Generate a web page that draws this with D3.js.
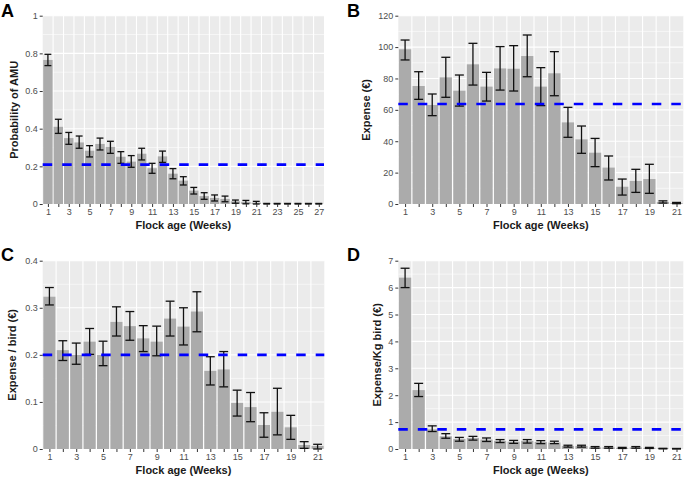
<!DOCTYPE html>
<html><head><meta charset="utf-8">
<script src="https://cdn.jsdelivr.net/npm/d3@7"></script>
<style>
body{margin:0;background:#fff;}
svg{display:block;font-family:"Liberation Sans",Arial,sans-serif;}
</style></head>
<body>
<svg id="chart" width="685" height="478"></svg>
<script>
// ---------- Data ----------
const weeksA = [1,2,3,4,5,6,7,8,9,10,11,12,13,14,15,16,17,18,19,20,21,22,23,24,25,26,27];
const weeksB = [1,2,3,4,5,6,7,8,9,10,11,12,13,14,15,16,17,18,19,20,21];

const probAMU   = [0.765,0.41,0.35,0.327,0.283,0.319,0.303,0.251,0.225,0.267,0.19,0.253,0.161,0.124,0.071,0.042,0.032,0.027,0.014,0.011,0.007,0.001,0.001,0.001,0.001,0.001,0.001];
const probAMUlo = [0.735,0.375,0.317,0.296,0.25,0.287,0.269,0.216,0.195,0.234,0.163,0.221,0.134,0.101,0.053,0.025,0.016,0.012,0.004,0.001,0.0,0.0,0.0,0.0,0.0,0.0,0.0];
const probAMUhi = [0.795,0.45,0.38,0.361,0.31,0.35,0.333,0.278,0.257,0.296,0.216,0.281,0.188,0.145,0.088,0.06,0.048,0.042,0.021,0.019,0.014,0.003,0.003,0.003,0.003,0.003,0.003];
const probMean = 0.209;

const expense   = [98.6,75.2,63.1,80.7,72.2,89,74.8,86.4,86.2,94.3,74.8,83.3,52,41.2,32.7,23.2,11,14.7,15.9,1.3,0.6];
const expenseLo = [91.8,66.7,56.3,68,62.4,75.8,65.6,72.6,72,81.1,62.7,69,42.5,32.3,23.8,15.3,5.7,7.4,6.8,0.6,0.2];
const expenseHi = [104.5,84.3,70.1,93.5,82.2,102.4,83.9,100.3,100.9,107.7,86.9,97.1,61.6,49.7,41.8,30.6,15.9,22.1,25.3,2.0,1.0];
const expenseMean = 63.7;

const perBird   = [0.3235,0.21,0.2,0.228,0.2,0.27,0.261,0.235,0.228,0.277,0.26,0.292,0.166,0.169,0.098,0.089,0.051,0.079,0.046,0.0085,0.0064];
const perBirdLo = [0.306,0.188,0.18,0.201,0.177,0.24,0.231,0.207,0.198,0.24,0.221,0.249,0.136,0.132,0.07,0.058,0.025,0.03,0.0205,0.0014,0.0];
const perBirdHi = [0.343,0.23,0.225,0.256,0.229,0.302,0.292,0.262,0.261,0.314,0.3,0.334,0.196,0.207,0.125,0.12,0.077,0.129,0.0715,0.0156,0.01];
const perBirdMean = 0.2;

const perKg   = [6.37,2.19,0.73,0.47,0.37,0.41,0.35,0.3,0.27,0.3,0.26,0.24,0.11,0.11,0.06,0.06,0.04,0.06,0.04,0.015,0.01];
const perKgLo = [6.0,1.95,0.65,0.40,0.29,0.33,0.28,0.24,0.21,0.22,0.2,0.2,0.07,0.07,0.03,0.03,0.02,0.03,0.02,0.005,0.0];
const perKgHi = [6.72,2.44,0.86,0.57,0.43,0.47,0.41,0.35,0.32,0.35,0.31,0.29,0.14,0.14,0.09,0.09,0.06,0.09,0.06,0.025,0.02];
const perKgMean = 0.73;

const yTicksA = [0,0.2,0.4,0.6,0.8,1];
const yTicksB = [0,20,40,60,80,100,120];
const yTicksC = [0,0.1,0.2,0.3,0.4];
const yTicksD = [0,1,2,3,4,5,6,7];
const yMinorA = [0.1,0.3,0.5,0.7,0.9];
const yMinorB = [10,30,50,70,90,110];
const yMinorC = [0.05,0.15,0.25,0.35];
const yMinorD = [0.5,1.5,2.5,3.5,4.5,5.5,6.5];

const xTitle = "Flock age (Weeks)";

// ---------- Drawing ----------
const svg = d3.select("#chart");

function panel(cfg){
  const {label, weeks, vals, lo, hi, mean, yTicks, yMinor, yTitle, box, labelPos, yTitleX} = cfg;
  const g = svg.append("g");
  const n = weeks.length;
  const x = d3.scaleLinear().domain([0.5, n + 0.5]).range([box.l, box.r]);
  const y = d3.scaleLinear().domain([0, yTicks[yTicks.length-1]]).range([box.b, box.t]);
  const unit = x(2) - x(1);

  g.append("rect").attr("x", box.l).attr("y", box.t)
    .attr("width", box.r - box.l).attr("height", box.b - box.t).attr("fill", "#ebebeb");

  // minor horizontal
  g.selectAll(".ymin").data(yMinor).join("line")
    .attr("x1", box.l).attr("x2", box.r).attr("y1", d => y(d)).attr("y2", d => y(d))
    .attr("stroke", "#fff").attr("stroke-width", 0.55);
  // major horizontal
  g.selectAll(".ymaj").data(yTicks).join("line")
    .attr("x1", box.l).attr("x2", box.r).attr("y1", d => y(d)).attr("y2", d => y(d))
    .attr("stroke", "#fff").attr("stroke-width", 1.1);
  // vertical grid between bars
  g.selectAll(".xg").data(weeks.slice(0, -1)).join("line")
    .attr("x1", d => x(d + 0.5)).attr("x2", d => x(d + 0.5)).attr("y1", box.t).attr("y2", box.b)
    .attr("stroke", "#fff").attr("stroke-width", 1.1);

  // bars
  g.selectAll(".bar").data(weeks).join("rect")
    .attr("x", d => x(d - 0.45)).attr("width", unit * 0.9)
    .attr("y", (d, i) => y(vals[i])).attr("height", (d, i) => box.b - y(vals[i]))
    .attr("fill", "#ababab");

  // error bars
  const cap = unit * 0.33;
  const eb = g.selectAll(".eb").data(weeks).join("g").attr("stroke", "#111").attr("stroke-width", 1.3);
  eb.append("line").attr("x1", d => x(d)).attr("x2", d => x(d))
    .attr("y1", (d, i) => y(lo[i])).attr("y2", (d, i) => y(hi[i]));
  eb.append("line").attr("x1", d => x(d) - cap).attr("x2", d => x(d) + cap)
    .attr("y1", (d, i) => y(lo[i])).attr("y2", (d, i) => y(lo[i]));
  eb.append("line").attr("x1", d => x(d) - cap).attr("x2", d => x(d) + cap)
    .attr("y1", (d, i) => y(hi[i])).attr("y2", (d, i) => y(hi[i]));

  // mean line
  g.append("line").attr("x1", box.l).attr("x2", box.r).attr("y1", y(mean)).attr("y2", y(mean))
    .attr("stroke", "#0000ff").attr("stroke-width", 2.6).attr("stroke-dasharray", "9.5,10");

  // axes
  const xAxis = d3.axisBottom(x).tickValues(weeks).tickSize(3).tickPadding(2)
    .tickFormat(d => (d % 2 === 1 ? d : ""));
  const ax = g.append("g").attr("transform", `translate(0,${box.b})`).call(xAxis);
  ax.select(".domain").remove();
  ax.selectAll(".tick line").attr("stroke", "#333").attr("stroke-width", 1);
  ax.selectAll(".tick text").attr("fill", "#4d4d4d").attr("font-size", 9)
    .attr("font-family", "Liberation Sans, Arial, sans-serif");

  const yAxis = d3.axisLeft(y).tickValues(yTicks).tickSize(3).tickPadding(2)
    .tickFormat(d => String(+d.toFixed(3)));
  const ay = g.append("g").attr("transform", `translate(${box.l},0)`).call(yAxis);
  ay.select(".domain").remove();
  ay.selectAll(".tick line").attr("stroke", "#333").attr("stroke-width", 1);
  ay.selectAll(".tick text").attr("fill", "#4d4d4d").attr("font-size", 9)
    .attr("font-family", "Liberation Sans, Arial, sans-serif");

  // titles
  g.append("text").attr("x", (box.l + box.r) / 2).attr("y", box.b + 25)
    .attr("text-anchor", "middle").attr("font-weight", "bold").attr("font-size", 11)
    .attr("fill", "#1a1a1a").text(xTitle);
  g.append("text").attr("transform", `translate(${yTitleX},${(box.t + box.b) / 2}) rotate(-90)`)
    .attr("text-anchor", "middle").attr("font-weight", "bold").attr("font-size", 11)
    .attr("fill", "#1a1a1a").text(yTitle);
  g.append("text").attr("x", labelPos[0]).attr("y", labelPos[1])
    .attr("font-weight", "bold").attr("font-size", 18).attr("fill", "#000").text(label);
}

panel({label:"A", weeks:weeksA, vals:probAMU, lo:probAMUlo, hi:probAMUhi, mean:probMean,
  yTicks:yTicksA, yMinor:yMinorA, yTitle:"Probability of AMU",
  box:{l:42.7, r:324, t:15.7, b:204}, labelPos:[1,17], yTitleX:18});
panel({label:"B", weeks:weeksB, vals:expense, lo:expenseLo, hi:expenseHi, mean:expenseMean,
  yTicks:yTicksB, yMinor:yMinorB, yTitle:"Expense (€)",
  box:{l:398.3, r:683.3, t:15.7, b:204}, labelPos:[347,17], yTitleX:370});
panel({label:"C", weeks:weeksB, vals:perBird, lo:perBirdLo, hi:perBirdHi, mean:perBirdMean,
  yTicks:yTicksC, yMinor:yMinorC, yTitle:"Expense / bird (€)",
  box:{l:42.7, r:324.3, t:260.7, b:449}, labelPos:[1,261], yTitleX:16});
panel({label:"D", weeks:weeksB, vals:perKg, lo:perKgLo, hi:perKgHi, mean:perKgMean,
  yTicks:yTicksD, yMinor:yMinorD, yTitle:"Expense/Kg bird (€)",
  box:{l:398.3, r:683.3, t:260.7, b:449}, labelPos:[347,261], yTitleX:381});
</script>
</body></html>
